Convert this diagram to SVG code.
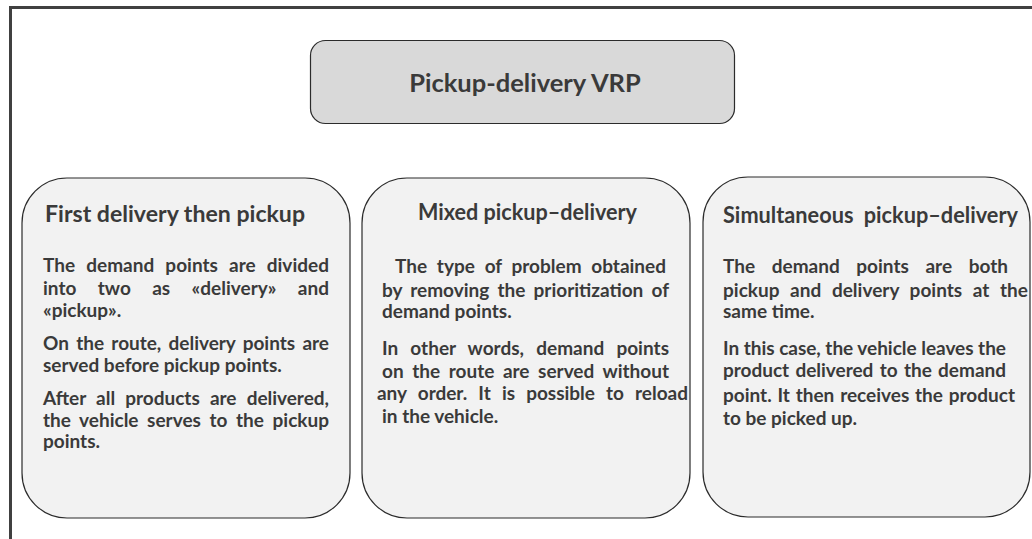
<svg xmlns="http://www.w3.org/2000/svg" width="1032" height="539" viewBox="0 0 1032 539">
<style>
.box{fill:#f2f2f2;stroke:#2b2b2b;stroke-width:1.2}
.title{fill:#d9d9d9;stroke:#2b2b2b;stroke-width:1.2}
text{font-family:Lato,"Open Sans","Liberation Sans",sans-serif;font-weight:bold;fill:#3a3a3a}
.h{font-size:22px}
.b{font-size:19px}
.t{font-size:25.5px}
</style>
<rect width="1032" height="539" fill="#ffffff"/>
<g id="frame">
<path d="M10.5 539 V7.5 H1032" fill="none" stroke="#404040" stroke-width="3"/>
</g>
<g id="connectors"></g>
<g id="title-node">
<rect class="title" x="310.5" y="40.5" width="424" height="83" rx="15"/>
<text class="t" x="525" y="92" text-anchor="middle">Pickup-delivery VRP</text>
</g>
<g id="node-first">
<rect class="box" x="22" y="178" width="328" height="340" rx="45"/>
<text class="h" x="45" y="222" textLength="260" lengthAdjust="spacingAndGlyphs">First delivery then pickup</text>
<text class="b" x="43" y="272" word-spacing="6.4" textLength="286" lengthAdjust="spacing">The demand points are divided</text>
<text class="b" x="43" y="295" word-spacing="16.7" textLength="286" lengthAdjust="spacing">into two as «delivery» and</text>
<text class="b" x="43" y="317">«pickup».</text>
<text class="b" x="43" y="350" word-spacing="2.7" textLength="286" lengthAdjust="spacing">On the route, delivery points are</text>
<text class="b" x="43" y="372">served before pickup points.</text>
<text class="b" x="43" y="405" word-spacing="5.6" textLength="286" lengthAdjust="spacing">After all products are delivered,</text>
<text class="b" x="43" y="427" word-spacing="4" textLength="286" lengthAdjust="spacing">the vehicle serves to the pickup</text>
<text class="b" x="43" y="448">points.</text>
</g>
<g id="node-mixed">
<rect class="box" x="362" y="178" width="328" height="340" rx="45"/>
<text class="h" x="418" y="220" textLength="219" lengthAdjust="spacingAndGlyphs">Mixed pickup–delivery</text>
<text class="b" x="395" y="273" word-spacing="5.2" textLength="271" lengthAdjust="spacing">The type of problem obtained</text>
<text class="b" x="382" y="297" word-spacing="3.6" textLength="287" lengthAdjust="spacing">by removing the prioritization of</text>
<text class="b" x="382" y="318">demand points.</text>
<text class="b" x="382" y="355" word-spacing="7.5" textLength="287" lengthAdjust="spacing">In other words, demand points</text>
<text class="b" x="382" y="378" word-spacing="4" textLength="287" lengthAdjust="spacing">on the route are served without</text>
<text class="b" x="377" y="400" word-spacing="6.6" textLength="311" lengthAdjust="spacing">any order. It is possible to reload</text>
<text class="b" x="382" y="423">in the vehicle.</text>
</g>
<g id="node-simultaneous">
<rect class="box" x="703" y="177" width="327" height="340" rx="45"/>
<text class="h" x="723" y="223" word-spacing="5" textLength="295" lengthAdjust="spacingAndGlyphs">Simultaneous pickup–delivery</text>
<text class="b" x="723" y="273" word-spacing="12" textLength="285" lengthAdjust="spacing">The demand points are both</text>
<text class="b" x="723" y="297" word-spacing="6" textLength="305" lengthAdjust="spacing">pickup and delivery points at the</text>
<text class="b" x="723" y="318">same time.</text>
<text class="b" x="723" y="355" textLength="283" lengthAdjust="spacing">In this case, the vehicle leaves the</text>
<text class="b" x="723" y="377" word-spacing="1.75" textLength="283" lengthAdjust="spacing">product delivered to the demand</text>
<text class="b" x="723" y="402" word-spacing="1.2" textLength="292" lengthAdjust="spacing">point. It then receives the product</text>
<text class="b" x="723" y="425">to be picked up.</text>
</g>
</svg>
